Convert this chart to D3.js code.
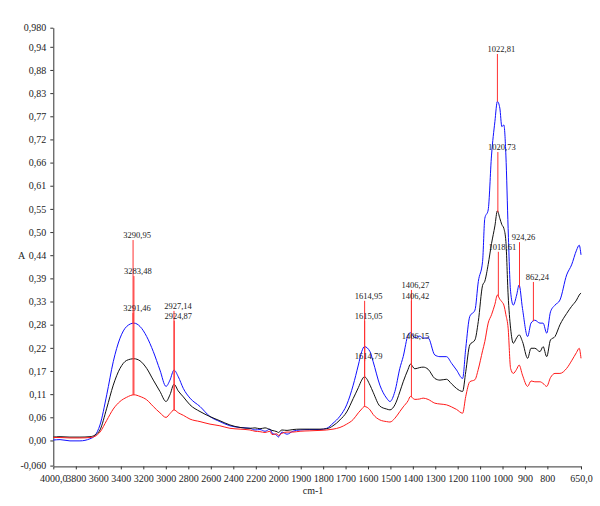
<!DOCTYPE html>
<html>
<head>
<meta charset="utf-8">
<script src="https://cdn.jsdelivr.net/npm/d3@7/dist/d3.min.js"></script>
<style>
  html, body { margin: 0; padding: 0; background: #fff; }
  svg { display: block; font-family: "Liberation Serif", "Times New Roman", serif; }
</style>
</head>
<body>
<svg id="chart" width="600" height="506"></svg>
<script>
// ---------- data ----------
const wavenumbers = [4000, 3940, 3852, 3763, 3674, 3629, 3585, 3525, 3467, 3407, 3348, 3283, 3229, 3170, 3111, 3052, 2998, 2963, 2927, 2889, 2844, 2785, 2696, 2607, 2519, 2430, 2340, 2252, 2207, 2163, 2118, 2074, 2056, 2012, 2000, 1984, 1961, 1935, 1903, 1859, 1814, 1784, 1756, 1725, 1695, 1666, 1643, 1628, 1616, 1591, 1577, 1547, 1517, 1502, 1480, 1458, 1443, 1421, 1411, 1391, 1369, 1354, 1332, 1302, 1279, 1250, 1227, 1205, 1178, 1164, 1146, 1123, 1108, 1089, 1079, 1064, 1049, 1034, 1023, 1012, 1003, 994, 985, 975, 964, 952, 937, 926, 911, 888, 873, 856, 833, 819, 803, 786, 766, 744, 714, 692, 670, 658, 650];

const blueValues = [0.001, 0.002, -0.001, -0.001, 0.004, 0.012, 0.037, 0.109, 0.188, 0.244, 0.272, 0.280, 0.272, 0.248, 0.212, 0.168, 0.129, 0.144, 0.168, 0.152, 0.124, 0.101, 0.081, 0.057, 0.045, 0.035, 0.031, 0.029, 0.025, 0.026, 0.022, 0.027, 0.018, 0.012, 0.008, 0.020, 0.015, 0.022, 0.025, 0.026, 0.026, 0.029, 0.041, 0.058, 0.085, 0.132, 0.180, 0.212, 0.224, 0.212, 0.188, 0.132, 0.101, 0.093, 0.117, 0.172, 0.200, 0.252, 0.257, 0.245, 0.249, 0.244, 0.245, 0.204, 0.200, 0.200, 0.184, 0.168, 0.148, 0.220, 0.296, 0.311, 0.379, 0.427, 0.530, 0.550, 0.681, 0.761, 0.809, 0.793, 0.749, 0.753, 0.681, 0.506, 0.355, 0.323, 0.347, 0.371, 0.315, 0.248, 0.280, 0.287, 0.280, 0.280, 0.256, 0.307, 0.323, 0.335, 0.395, 0.419, 0.454, 0.466, 0.443];

const blackValues = [0.008, 0.009, 0.008, 0.008, 0.009, 0.013, 0.025, 0.077, 0.132, 0.172, 0.191, 0.195, 0.190, 0.172, 0.144, 0.117, 0.093, 0.109, 0.134, 0.118, 0.104, 0.085, 0.069, 0.057, 0.047, 0.037, 0.031, 0.029, 0.030, 0.028, 0.030, 0.026, 0.024, 0.021, 0.019, 0.025, 0.024, 0.026, 0.027, 0.027, 0.027, 0.028, 0.035, 0.049, 0.068, 0.100, 0.126, 0.144, 0.152, 0.132, 0.115, 0.082, 0.075, 0.073, 0.085, 0.116, 0.140, 0.170, 0.182, 0.171, 0.174, 0.175, 0.170, 0.148, 0.144, 0.146, 0.135, 0.124, 0.117, 0.164, 0.228, 0.240, 0.284, 0.370, 0.380, 0.420, 0.470, 0.512, 0.548, 0.530, 0.515, 0.506, 0.475, 0.347, 0.268, 0.232, 0.245, 0.252, 0.236, 0.196, 0.220, 0.220, 0.212, 0.224, 0.200, 0.240, 0.248, 0.276, 0.303, 0.320, 0.335, 0.347, 0.352];

const redValues = [0.007, 0.007, 0.006, 0.006, 0.007, 0.010, 0.020, 0.048, 0.075, 0.093, 0.103, 0.109, 0.105, 0.097, 0.081, 0.066, 0.055, 0.064, 0.073, 0.066, 0.060, 0.051, 0.045, 0.039, 0.035, 0.029, 0.027, 0.025, 0.022, 0.021, 0.019, 0.022, 0.014, 0.016, 0.012, 0.017, 0.020, 0.020, 0.022, 0.023, 0.024, 0.025, 0.027, 0.031, 0.039, 0.050, 0.066, 0.075, 0.081, 0.073, 0.062, 0.049, 0.045, 0.044, 0.053, 0.069, 0.080, 0.095, 0.105, 0.098, 0.099, 0.101, 0.098, 0.089, 0.087, 0.085, 0.080, 0.074, 0.065, 0.105, 0.140, 0.145, 0.170, 0.214, 0.236, 0.280, 0.300, 0.325, 0.347, 0.337, 0.331, 0.323, 0.300, 0.268, 0.172, 0.160, 0.170, 0.180, 0.156, 0.129, 0.142, 0.140, 0.140, 0.136, 0.129, 0.150, 0.160, 0.160, 0.172, 0.190, 0.210, 0.220, 0.196];

const seriesNames = ["blue", "black", "red"];
const seriesColors = ["#1010ff", "#111111", "#ff1a1a"];

const xTickValues = [4000, 3800, 3600, 3400, 3200, 3000, 2800, 2600, 2400, 2200, 2000, 1900, 1800, 1700, 1600, 1500, 1400, 1300, 1200, 1100, 1000, 900, 800, 650];
const xTickLabels = ["4000,0", "3800", "3600", "3400", "3200", "3000", "2800", "2600", "2400", "2200", "2000", "1900", "1800", "1700", "1600", "1500", "1400", "1300", "1200", "1100", "1000", "900", "800", "650,0"];

const yTickValues = [-0.06, 0, 0.0553, 0.1105, 0.1658, 0.2210, 0.2763, 0.3316, 0.3868, 0.4421, 0.4973, 0.5526, 0.6079, 0.6631, 0.7184, 0.7736, 0.8289, 0.8842, 0.9394, 0.985];
const yTickLabels = ["-0,060", "0,00", "0,06", "0,11", "0,17", "0,22", "0,28", "0,33", "0,39", "0,44", "0,50", "0,55", "0,61", "0,66", "0,72", "0,77", "0,83", "0,88", "0,94", "0,980"];

const peakLabels = ["3290,95", "3283,48", "3291,46", "2927,14", "2924,87", "1614,95", "1615,05", "1614,79", "1406,27", "1406,42", "1406,15", "1022,81", "1020,73", "1018,61", "924,26", "862,24"];
const peakWavenumbers = [3290.95, 3283.48, 3291.46, 2927.14, 2924.87, 1614.95, 1615.05, 1614.79, 1406.27, 1406.42, 1406.15, 1022.81, 1020.73, 1018.61, 924.26, 862.24];
const peakLabelLevels = [0.483, 0.397, 0.309, 0.314, 0.290, 0.338, 0.290, 0.194, 0.364, 0.338, 0.242, 0.927, 0.693, 0.455, 0.478, 0.383];
const peakTargets = ["red", "red", "blue", "red", "red", "red", "black", "blue", "red", "black", "blue", "blue", "black", "red", "blue", "blue"];

const xAxisTitle = "cm-1";
const yAxisTitle = "A";

// ---------- drawing ----------
const svg = d3.select("#chart");

const x = d3.scaleLinear().domain([4000, 2000, 650]).range([53.3, 278.3, 581]);
const y = d3.scaleLinear().domain([-0.06, 0.985]).range([465.6, 27.7]);

const seriesData = [blueValues, blackValues, redValues];

// axes
const yAxis = d3.axisLeft(y).tickValues(yTickValues).tickFormat((d, i) => yTickLabels[i]).tickSize(3).tickSizeOuter(0);
const gy = svg.append("g").attr("transform", `translate(${x(4000)},0)`).call(yAxis);
gy.selectAll("text").attr("font-size", 10).attr("fill", "#222").attr("font-family", "Liberation Serif, serif").attr("dx", "-1");
gy.selectAll("line, path").attr("stroke", "#333");

const xAxis = d3.axisBottom(x).tickValues(xTickValues).tickFormat((d, i) => xTickLabels[i]).tickSize(3).tickSizeOuter(0);
const gx = svg.append("g").attr("transform", `translate(0,${y(-0.06) + 0.8})`).call(xAxis);
gx.selectAll("text").attr("font-size", 10).attr("fill", "#222").attr("font-family", "Liberation Serif, serif").attr("dy", "0.95em");
gx.selectAll("line, path").attr("stroke", "#333");

svg.append("text").attr("x", 313).attr("y", 494).attr("text-anchor", "middle")
  .attr("font-size", 10).attr("fill", "#222").text(xAxisTitle);
svg.append("text").attr("x", 18).attr("y", y(0.4421) + 3.5)
  .attr("font-size", 10).attr("fill", "#222").text(yAxisTitle);

// spectra
const line = d3.line()
  .x((d, i) => x(wavenumbers[i]))
  .y(d => y(d))
  .curve(d3.curveMonotoneX);

seriesData.forEach((vals, k) => {
  svg.append("path")
    .datum(vals)
    .attr("fill", "none")
    .attr("stroke", seriesColors[k])
    .attr("stroke-width", 1)
    .attr("d", line);
});

// interpolation helper for annotation line ends
function valueAt(vals, w) {
  for (let i = 0; i < wavenumbers.length - 1; i++) {
    const a = wavenumbers[i], b = wavenumbers[i + 1];
    if (w <= a && w >= b) {
      const t = (a - w) / (a - b);
      return vals[i] + t * (vals[i + 1] - vals[i]);
    }
  }
  return vals[vals.length - 1];
}

// peak annotations
peakLabels.forEach((lab, i) => {
  const w = peakWavenumbers[i];
  const px = x(w);
  const labelY = y(peakLabelLevels[i]);
  const vals = seriesData[seriesNames.indexOf(peakTargets[i])];
  const endY = y(valueAt(vals, w));
  svg.append("line")
    .attr("x1", px).attr("x2", px)
    .attr("y1", labelY + 2).attr("y2", endY)
    .attr("stroke", "#ff3030").attr("stroke-width", 1);
});
peakLabels.forEach((lab, i) => {
  const px = x(peakWavenumbers[i]);
  svg.append("text")
    .attr("x", px + 4).attr("y", y(peakLabelLevels[i]))
    .attr("text-anchor", "middle")
    .attr("font-size", 8.5).attr("fill", "#222")
    .text(lab);
});
</script>
</body>
</html>
